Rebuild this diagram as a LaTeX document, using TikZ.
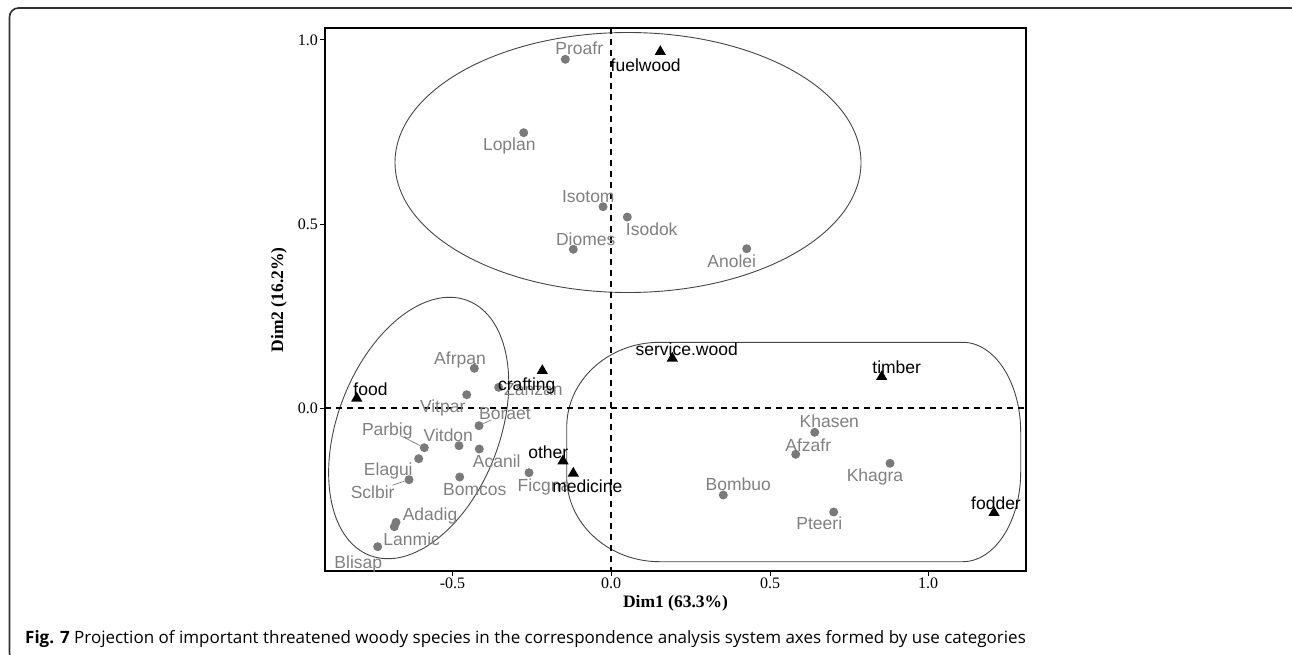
\documentclass[tikz,border=0pt]{standalone}
\usepackage{fontspec}
\usetikzlibrary{shapes.geometric}
\newfontfamily\labfont{Liberation Sans}
\newfontfamily\serf{Liberation Serif}
\newfontfamily\capfont{Open Sans}
\definecolor{labgray}{HTML}{808080}
\definecolor{dotgray}{HTML}{7A7A7A}
\definecolor{shapegray}{HTML}{454545}
\definecolor{framegray}{HTML}{303030}
\tikzset{
  lab/.style={font={\labfont\fontsize{17.5}{20}\selectfont}, text=labgray, inner sep=0pt, text height=12.6pt, text depth=0pt},
  blab/.style={lab, text=black},
  dot/.style={circle, fill=dotgray, inner sep=0pt, minimum size=9pt},
  tri/.style={regular polygon, regular polygon sides=3, fill=black, inner sep=0pt, minimum size=13pt},
  grp/.style={draw=shapegray, line width=0.9pt},
  axdash/.style={line width=1.5pt, dash pattern=on 6pt off 5pt},
  seg/.style={draw=labgray, line width=0.7pt},
  ticklab/.style={font={\serf\fontsize{16}{18}\selectfont}, inner sep=0pt},
  axtitle/.style={font={\serf\bfseries\fontsize{17.5}{20}\selectfont}, inner sep=0pt}
}
\begin{document}
\begin{tikzpicture}[x=1pt,y=-1pt]
\useasboundingbox (0,0) rectangle (1292,655);
% figure frame
\begin{scope}
  \clip (0,0) rectangle (1292,655);
  \draw[framegray, line width=1.6pt, rounded corners=9pt] (9.5,8) rectangle (1300,662);
\end{scope}
% group shapes
\draw[grp] (628,162.5) ellipse [x radius=233, y radius=130];
\draw[grp, rotate around={69:(418.7,428)}] (418.7,428) ellipse [x radius=136.5, y radius=81];
\draw[grp] (659.7,342.3) -- (962.7,342.3)
  .. controls (994.7,342.3) and (1020.7,382.6) .. (1020.7,432.3)
  -- (1020.7,471.7)
  .. controls (1020.7,521.4) and (994.7,561.7) .. (962.7,561.7)
  -- (659.7,561.7)
  .. controls (608.3,561.7) and (566.7,523.6) .. (566.7,476.7)
  -- (566.7,427.3)
  .. controls (566.7,380.4) and (608.3,342.3) .. cycle;
% axes
\draw[axdash] (611,28) -- (611,571);
\draw[axdash] (325,408) -- (1026,408);
\draw[line width=1.4pt] (325,28) rectangle (1026,571);
\foreach \v/\py [count=\i] in {1.0/40,0.5/224,0.0/408}{
  \draw[line width=1pt] (320,\py) -- (325,\py);
  \node[ticklab, anchor=east] (yt\i) at (318,\py) {\v};
}
\foreach \v/\px [count=\i] in {-0.5/452.5,0.0/611,0.5/770,1.0/928}{
  \draw[line width=1pt] (\px,571) -- (\px,576);
  \node[ticklab, anchor=north] (xt\i) at (\px,578) {\v};
}
\node[axtitle] (xtitle) at (675.5,603) {Dim1 (63.3\%)};
\node[axtitle, rotate=90] (ytitle) at (279,300) {Dim2 (16.2\%)};
% points: top group
\node[dot] (proafr) at (565.3,59.3) {};
\node[tri] (fuelwood) at (660.3,51.7) {};
\node[dot] (loplan) at (523.7,132.7) {};
\node[dot] (isotom) at (603,206.7) {};
\node[dot] (isodok) at (627.3,217) {};
\node[dot] (diomes) at (573.3,249.3) {};
\node[dot] (anolei) at (746.7,248.7) {};
% left group
\node[dot] (afrpan) at (474.3,368.3) {};
\node[dot] (zanzan) at (498.7,387.3) {};
\node[tri] (crafting) at (542.3,370.7) {};
\node[tri] (food) at (356.7,398.3) {};
\node[dot] (vitpar) at (466.7,394.7) {};
\node[dot] (boraet) at (479,425.7) {};
\node[dot] (vitdon) at (459,445.7) {};
\node[dot] (acanil) at (479.3,449) {};
\node[dot] (parbig) at (424.3,447.7) {};
\node[dot] (elagui) at (418.7,458.7) {};
\node[dot] (sclbir) at (409,479.7) {};
\node[dot] (bomcos) at (459.7,477) {};
\node[dot] (ficgna) at (529,472.7) {};
\node[tri] (other) at (563,461) {};
\node[tri] (medicine) at (573.3,473.3) {};
\node[dot] (adadig) at (396,522.3) {};
\node[dot] (lanmic) at (394.3,526.7) {};
\node[dot] (blisap) at (377.7,546.7) {};
% right group
\node[tri] (service) at (672.3,358.3) {};
\node[tri] (timber) at (881.7,376.7) {};
\node[dot] (khasen) at (814.7,432.3) {};
\node[dot] (afzafr) at (795.7,454.3) {};
\node[dot] (khagra) at (890,463.3) {};
\node[dot] (bombuo) at (723.3,495) {};
\node[dot] (pteeri) at (833.7,512) {};
\node[tri] (fodder) at (994,512.7) {};
% labels: top group
\node[lab] (proafrL) at (579.3,48.7) {Proafr};
\node[blab] (fuelwoodL) at (645.7,65) {fuelwood};
\node[lab] (loplanL) at (509.3,144.3) {Loplan};
\node[lab] (isotomL) at (588.3,195.7) {Isotom};
\node[lab] (isodokL) at (651.7,229) {Isodok};
\node[lab] (diomesL) at (585.7,239) {Diomes};
\node[lab] (anoleiL) at (731.7,260.7) {Anolei};
% labels: left group
\node[lab] (afrpanL) at (460,357.7) {Afrpan};
\node[lab] (zanzanL) at (533.3,389.3) {Zanzan};
\node[blab] (craftingL) at (526.7,384) {crafting};
\node[blab] (foodL) at (370.5,389.3) {food};
\node[lab] (vitparL) at (442.7,406) {Vitpar};
\node[lab] (boraetL) at (505,413.3) {Boraet};
\node[lab] (vitdonL) at (448.3,435) {Vitdon};
\node[lab] (acanilL) at (496.7,461) {Acanil};
\node[lab] (parbigL) at (387.3,429) {Parbig};
\node[lab] (elaguiL) at (388.3,469.3) {Elagui};
\node[lab] (sclbirL) at (372.7,491.7) {Sclbir};
\node[lab] (bomcosL) at (474.7,489) {Bomcos};
\node[lab] (ficgnaL) at (544,485) {Ficgna};
\node[blab] (otherL) at (548.3,451.7) {other};
\node[blab] (medicineL) at (587.3,486) {medicine};
\node[lab] (adadigL) at (430,514) {Adadig};
\node[lab] (lanmicL) at (411.7,539.3) {Lanmic};
\node[lab] (blisapL) at (358.3,561.7) {Blisap};
% labels: right group
\node[blab] (serviceL) at (686.7,349.3) {service.wood};
\node[blab] (timberL) at (896.7,366.7) {timber};
\node[lab] (khasenL) at (829.3,421) {Khasen};
\node[lab] (afzafrL) at (808.3,445) {Afzafr};
\node[lab] (khagraL) at (875,475) {Khagra};
\node[lab] (bombuoL) at (738.3,484) {Bombuo};
\node[lab] (pteeriL) at (819.3,523.3) {Pteeri};
\node[blab] (fodderL) at (996,502.7) {fodder};
% leader segments
\draw[seg] (parbigL) -- (parbig);
\draw[seg] (sclbirL) -- (sclbir);
\draw[seg] (boraetL) -- (boraet);
% caption
\node[anchor=base west, inner sep=0pt, font={\capfont\fontsize{17}{20}\selectfont}] (caption) at (25,643)
  {\textbf{Fig. 7} Projection of important threatened woody species in the correspondence analysis system axes formed by use categories};
\end{tikzpicture}
\end{document}
